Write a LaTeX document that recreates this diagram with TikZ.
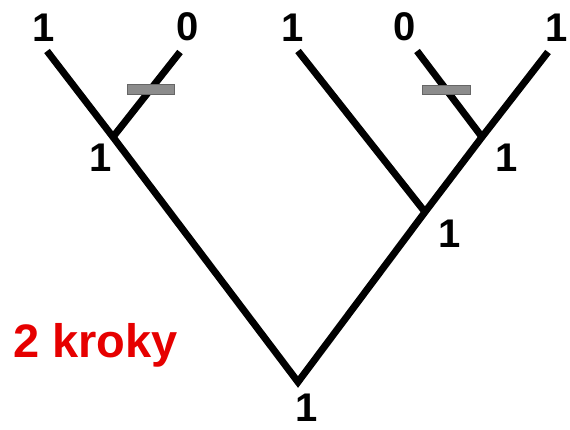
\documentclass[tikz,border=0pt]{standalone}
\usepackage{fontspec}
\setmainfont{Liberation Sans}
\usetikzlibrary{positioning}
\definecolor{krokred}{RGB}{230,0,0}
\definecolor{bargray}{RGB}{140,140,140}
\tikzset{
  lbl/.style={font=\fontsize{40}{40}\bfseries\selectfont, inner sep=0pt},
  branch/.style={line width=7pt, line join=miter},
  mark bar/.style={fill=bargray, draw=gray!80!black, line width=0.4pt}
}

\begin{document}
\begin{tikzpicture}[x=1pt,y=-1pt]
			\useasboundingbox (0,0) rectangle (570,429);
			% tree points
			\coordinate (root) at (298,382);
			\coordinate (nL) at (113,137);
			\coordinate (nM) at (425,212);
			\coordinate (nR) at (482,137);
			\coordinate (t1) at (47,51);
			\coordinate (t2) at (180,52);
			\coordinate (t3) at (298,51);
			\coordinate (t4) at (417,51);
			\coordinate (t5) at (548,52);
			
			\begin{scope}[branch]
			\draw (t1) -- (nL) -- (root) -- (nM) -- (nR) -- (t5);
			\draw (nL) -- (t2);
			\draw (nM) -- (t3);
			\draw (nR) -- (t4);
			\end{scope}
			
			% character losses
			\draw[mark bar] (127,84) rectangle (174,94);
			\draw[mark bar] (422,85) rectangle (470,94);
			
			\node[lbl] (s1) at (44,28) {1};
			\node[lbl] (s2) at (188,27) {0};
			\node[lbl] (s3) at (293,28) {1};
			\node[lbl] (s4) at (405,27) {0};
			\node[lbl] (s5) at (557,28) {1};
			\node[lbl] (aL) at (101,158) {1};
			\node[lbl] (aR) at (507,158) {1};
			\node[lbl] (aM) at (450,234) {1};
			\node[lbl] (aroot) at (307,408) {1};
			\node[font=\fontsize{47}{47}\bfseries\selectfont, text=krokred, inner sep=0pt, anchor=base west] (steps) at (13,357) {2 kroky};
\end{tikzpicture}
\end{document}
